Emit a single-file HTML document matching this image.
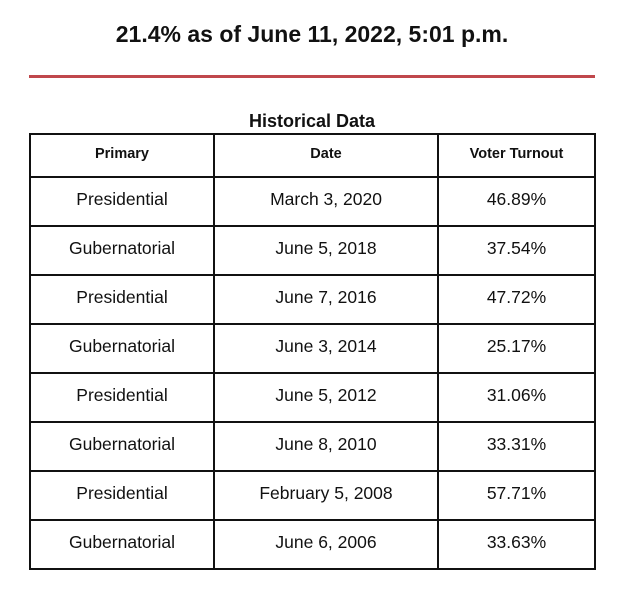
<!DOCTYPE html>
<html><head><style>
body{margin:0;width:624px;height:600px;background:#fff;font-family:"Liberation Sans",Arial,sans-serif;color:#111;position:relative;overflow:hidden}
.t{position:absolute;left:0;width:624px;text-align:center;top:21px;font-size:23px;font-weight:bold}
.r{position:absolute;left:29px;width:566px;top:75px;height:3px;background:#c0474c}
.h{position:absolute;left:0;width:624px;text-align:center;top:111px;font-size:18px;font-weight:bold}
table{position:absolute;left:29px;top:133px;width:565px;border-collapse:collapse;table-layout:fixed}
td{border:2px solid #111;text-align:center;font-size:17.5px;padding:0 0 4px 0}
tr{height:49px}
tr.hd{height:43px}
tr.hd td{font-size:14.5px;font-weight:bold}
</style></head><body>
<div class="t">21.4% as of June 11, 2022, 5:01 p.m.</div>
<div class="r"></div>
<div class="h">Historical Data</div>
<table>
<colgroup><col style="width:184px"><col style="width:224px"><col style="width:157px"></colgroup>
<tr class="hd"><td>Primary</td><td>Date</td><td>Voter Turnout</td></tr>
<tr><td>Presidential</td><td>March 3, 2020</td><td>46.89%</td></tr>
<tr><td>Gubernatorial</td><td>June 5, 2018</td><td>37.54%</td></tr>
<tr><td>Presidential</td><td>June 7, 2016</td><td>47.72%</td></tr>
<tr><td>Gubernatorial</td><td>June 3, 2014</td><td>25.17%</td></tr>
<tr><td>Presidential</td><td>June 5, 2012</td><td>31.06%</td></tr>
<tr><td>Gubernatorial</td><td>June 8, 2010</td><td>33.31%</td></tr>
<tr><td>Presidential</td><td>February 5, 2008</td><td>57.71%</td></tr>
<tr><td>Gubernatorial</td><td>June 6, 2006</td><td>33.63%</td></tr>
</table>
</body></html>
